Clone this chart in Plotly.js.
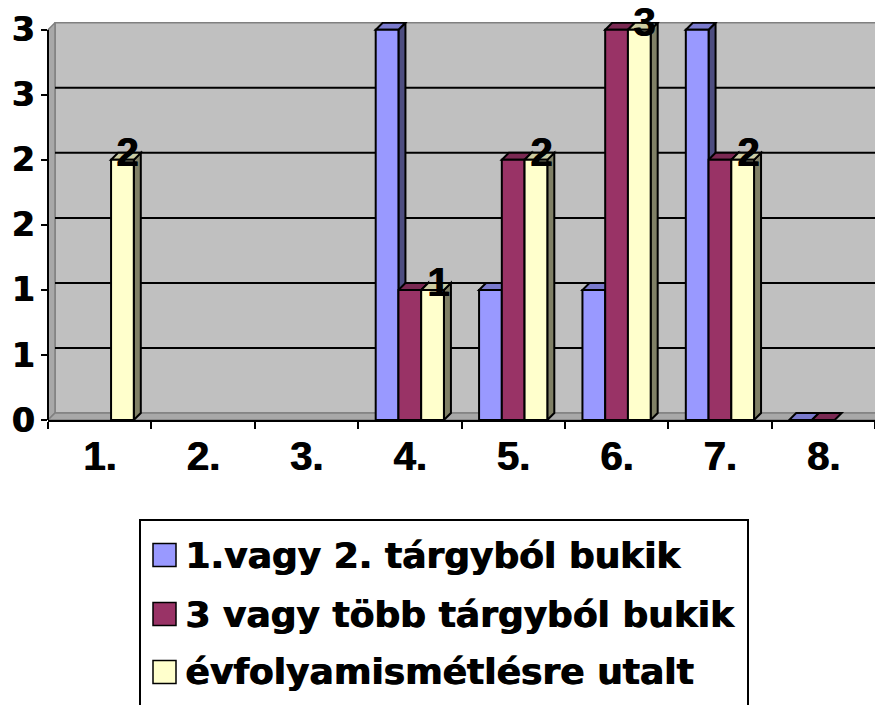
<!DOCTYPE html>
<html>
<head>
<meta charset="utf-8">
<script src="https://cdn.plot.ly/plotly-3.0.1.min.js"></script>
<style>html,body{margin:0;padding:0;background:#fff;}#chart{width:875px;height:705px;}</style>
</head>
<body>
<div id="chart"></div>
<script>
// ---- data ----
const categories = ["1.", "2.", "3.", "4.", "5.", "6.", "7.", "8."];
const seriesNames = ["1.vagy 2. tárgyból bukik", "3 vagy több tárgyból bukik", "évfolyamismétlésre utalt"];
const series1 = [null, null, null, 3, 1, 1, 3, 0];
const series2 = [null, null, null, 1, 2, 3, 2, 0];
const series3 = [2, null, null, 1, 2, 3, 2, null];
const yTickVals = [0, 0.5, 1, 1.5, 2, 2.5, 3];
const yTickText = ["0", "1", "1", "2", "2", "3", "3"];
const labelledSeries = 2; // only the third series carries data labels

// ---- styling ----
const frontColors = ["#9999FF", "#993366", "#FFFFCC"];
const sideColors = ["#4D4D80", "#4D1A33", "#808066"];
const topColors = ["#7A7ACC", "#7A2952", "#CCCCA3"];
const heavy = "1px 0px 0px #000";

const W = 875, H = 705;
const M = {l: 48, r: 0, t: 22, b: 285};
const plotW = W - M.l - M.r, plotH = H - M.t - M.b;
const xRange = [-0.5, categories.length - 0.5];
const yRange = [0, 3.06];
const depthPx = 7;
const dx = depthPx * (xRange[1] - xRange[0]) / plotW;
const dy = depthPx * (yRange[1] - yRange[0]) / plotH;
const bargap = 0.34;
const nSeries = 3;
const bw = (1 - bargap) / nSeries;
const edge = 2;

const allSeries = [series1, series2, series3];
const xIdx = categories.map((c, i) => i);

const traces = allSeries.map((vals, j) => ({
  type: "bar",
  x: xIdx,
  y: vals,
  name: seriesNames[j],
  marker: {color: frontColors[j], line: {color: "#000", width: edge}},
  showlegend: false,
  hoverinfo: "skip"
}));

const shapes = [];
const yMax = yTickVals[yTickVals.length - 1];
// back wall
shapes.push({type: "rect", layer: "below", xref: "x", yref: "y",
  x0: xRange[0] + dx, x1: xRange[1] + 1, y0: dy, y1: yMax + dy,
  fillcolor: "#C0C0C0", line: {color: "#808080", width: 1.5}});
// left wall
shapes.push({type: "path", layer: "below", xref: "x", yref: "y",
  path: `M${xRange[0]},0 L${xRange[0] + dx},${dy} L${xRange[0] + dx},${yMax + dy} L${xRange[0]},${yMax} Z`,
  fillcolor: "#A8A8A8", line: {color: "#808080", width: 1.5}});
// floor
shapes.push({type: "path", layer: "below", xref: "x", yref: "y",
  path: `M${xRange[0]},0 L${xRange[1] + 1},0 L${xRange[1] + 1},${dy} L${xRange[0] + dx},${dy} Z`,
  fillcolor: "#A8A8A8", line: {color: "#808080", width: 1.5}});
// gridlines on back wall
yTickVals.forEach(v => {
  if (v > 0 && v < yMax) {
    shapes.push({type: "line", layer: "below", xref: "x", yref: "y",
      x0: xRange[0] + dx, x1: xRange[1] + 1, y0: v + dy, y1: v + dy,
      line: {color: "#000", width: 2}});
  }
});
// 3D faces of the bars
allSeries.forEach((vals, j) => {
  vals.forEach((v, i) => {
    if (v === null) return;
    const l = i - (1 - bargap) / 2 + j * bw;
    const r = l + bw;
    if (v > 0) {
      shapes.push({type: "path", layer: "below", xref: "x", yref: "y",
        path: `M${r},0 L${r},${v} L${r + dx},${v + dy} L${r + dx},${dy} Z`,
        fillcolor: sideColors[j], line: {color: "#000", width: edge}});
    }
    shapes.push({type: "path", layer: "below", xref: "x", yref: "y",
      path: `M${l},${v} L${r},${v} L${r + dx},${v + dy} L${l + dx},${v + dy} Z`,
      fillcolor: topColors[j], line: {color: "#000", width: edge}});
  });
});
// y axis line (front edge)
shapes.push({type: "line", layer: "above", xref: "paper", yref: "y",
  x0: 0, x1: 0, y0: 0, y1: yMax, line: {color: "#000", width: 2}});

// data labels
const annotations = [];
allSeries[labelledSeries].forEach((v, i) => {
  if (v === null) return;
  const c = i - (1 - bargap) / 2 + labelledSeries * bw + bw / 2;
  annotations.push({x: c, y: v, xref: "x", yref: "y", text: String(v), showarrow: false,
    xshift: 5, yshift: 8,
    font: {family: "Liberation Sans, Arial, sans-serif", size: 40, weight: "bold", color: "#000", shadow: heavy}});
});

// manual legend
const px2x = p => (p - M.l) / plotW;
const px2y = p => (H - M.b - p) / plotH;
shapes.push({type: "rect", xref: "paper", yref: "paper", layer: "above",
  x0: px2x(140), x1: px2x(748), y0: px2y(720), y1: px2y(520),
  fillcolor: "rgba(0,0,0,0)", line: {color: "#000", width: 2}});
const rowY = [555, 614, 672];
seriesNames.forEach((name, j) => {
  shapes.push({type: "rect", xref: "paper", yref: "paper", layer: "above",
    x0: px2x(153), x1: px2x(176), y0: px2y(rowY[j] + 11.5), y1: px2y(rowY[j] - 11.5),
    fillcolor: frontColors[j], line: {color: "#000", width: 1.5}});
  annotations.push({xref: "paper", yref: "paper", x: px2x(183), y: px2y(rowY[j]),
    xanchor: "left", yanchor: "middle", showarrow: false, text: name,
    font: {family: "DejaVu Sans, sans-serif", size: 36, weight: "bold", color: "#000", shadow: heavy}});
});

const layout = {
  width: W, height: H,
  margin: M,
  paper_bgcolor: "#fff", plot_bgcolor: "#fff",
  barmode: "group", bargap: bargap, bargroupgap: 0,
  showlegend: false,
  xaxis: {
    type: "linear", range: xRange, tickmode: "array", tickvals: xIdx, ticktext: categories,
    ticks: "", showgrid: false, zeroline: false,
    showline: true, linecolor: "#000", linewidth: 2,
    minor: {tick0: -0.5, dtick: 1, ticks: "outside", ticklen: 7, tickwidth: 2, tickcolor: "#000", showgrid: false},
    tickfont: {family: "Liberation Sans, Arial, sans-serif", size: 40, weight: "bold", color: "#000", shadow: heavy},
    fixedrange: true
  },
  yaxis: {
    range: yRange, tickmode: "array", tickvals: yTickVals, ticktext: yTickText,
    ticks: "outside", ticklen: 6, tickwidth: 2, tickcolor: "#000",
    showgrid: false, zeroline: false, showline: false,
    tickfont: {family: "DejaVu Sans, sans-serif", size: 33, weight: "bold", color: "#000", shadow: heavy},
    fixedrange: true
  },
  shapes: shapes,
  annotations: annotations
};

Plotly.newPlot("chart", traces, layout, {staticPlot: true, displayModeBar: false});
</script>
</body>
</html>
